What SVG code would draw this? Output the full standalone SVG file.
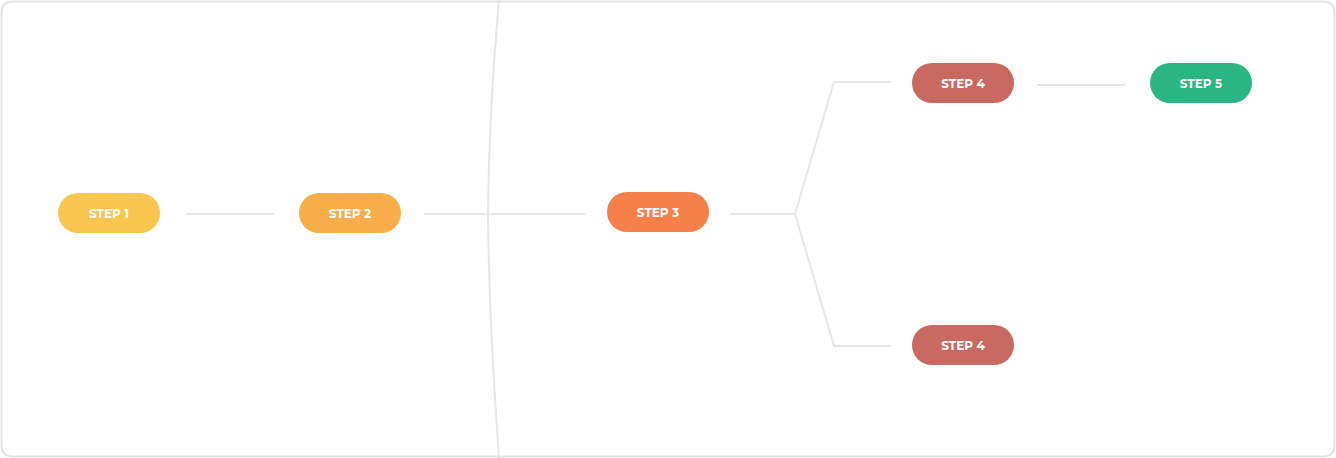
<svg xmlns="http://www.w3.org/2000/svg" width="1336" height="458" viewBox="0 0 1336 458">
<style>
.pill text{font-family:Montserrat,"Open Sans","Liberation Sans",sans-serif;font-weight:bold;font-size:12px;fill:#fff;text-anchor:middle}
.lbl{font-family:Montserrat,"Open Sans","Liberation Sans",sans-serif;font-size:14.5px;fill:#1a1a1a;text-anchor:middle}
.c{stroke:#e6e6e6;stroke-width:2;fill:none}
</style>
<rect x="1.5" y="1.5" width="1333" height="455" rx="10" fill="#fff" stroke="#e3e3e3" stroke-width="2"/>
<g id="connectors">
<path class="c" d="M499 0 Q489 110 488 213 Q489 320 499 458"/>
<line class="c" x1="186" y1="214" x2="274" y2="214"/>
<line class="c" x1="424" y1="214" x2="585" y2="214"/>
<polyline class="c" points="730,214 795,214 834,82 891,82"/>
<polyline class="c" points="795,214 834,346 891,346"/>
<line class="c" x1="1037" y1="85" x2="1125" y2="85"/>
</g>
<g id="step1" class="pill"><rect x="58" y="193" width="102" height="40" rx="20" fill="#f9c74f"/><text x="109" y="217.5">STEP 1</text><text class="lbl" x="115" y="266">Home Page</text></g>
<g id="step2" class="pill"><rect x="299" y="193" width="102" height="40" rx="20" fill="#f9ae4a"/><text x="350" y="217.5">STEP 2</text><text class="lbl" x="355" y="266">Pillar Page</text></g>
<g id="step3" class="pill"><rect x="607" y="192" width="102" height="40" rx="20" fill="#f5804a"/><text x="658" y="216.5">STEP 3</text><text class="lbl" x="663" y="265">Case Studies</text></g>
<g id="step4a" class="pill"><rect x="912" y="63" width="102" height="40" rx="20" fill="#c86a62"/><text x="963" y="87.5">STEP 4</text><text class="lbl" x="968" y="136">Content Offer LP</text></g>
<g id="step5" class="pill"><rect x="1150" y="63" width="102" height="40" rx="20" fill="#2bb584"/><text x="1201" y="87.5">STEP 5</text><text class="lbl" x="1206" y="136">Thank You Page</text></g>
<g id="step4b" class="pill"><rect x="912" y="325" width="102" height="40" rx="20" fill="#c86a62"/><text x="963" y="349.5">STEP 4</text><text class="lbl" x="968" y="398">Contact / Calendar</text></g>
</svg>
